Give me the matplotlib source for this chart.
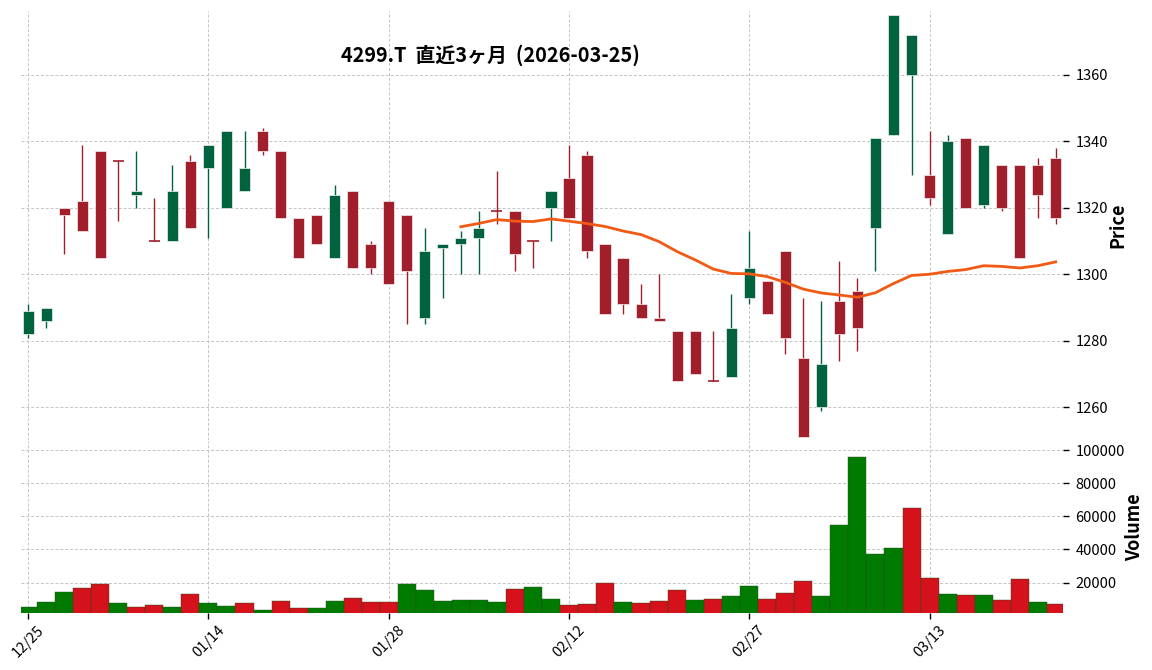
import matplotlib
matplotlib.use('Agg')
import matplotlib.pyplot as plt
import numpy as np
import pandas as pd

plt.rcParams['font.family'] = ['Noto Sans CJK JP', 'DejaVu Sans']

# データ (終値ベースで読み取り)
dates = ['12/25', '12/26', '12/29', '12/30', '01/05', '01/06', '01/07', '01/08', '01/09', '01/13',
         '01/14', '01/15', '01/16', '01/19', '01/20', '01/21', '01/22', '01/23', '01/26', '01/27',
         '01/28', '01/29', '01/30', '02/02', '02/03', '02/04', '02/05', '02/06', '02/09', '02/10',
         '02/12', '02/13', '02/16', '02/17', '02/18', '02/19', '02/20', '02/24', '02/25', '02/26',
         '02/27', '03/02', '03/03', '03/04', '03/05', '03/06', '03/09', '03/10', '03/11', '03/12',
         '03/13', '03/16', '03/17', '03/18', '03/19', '03/23', '03/24', '03/25']
opens = [1282, 1286, 1320, 1322, 1337, 1334, 1324, 1310, 1310, 1334,
         1332, 1320, 1325, 1343, 1337, 1317, 1318, 1305, 1325, 1309,
         1322, 1318, 1287, 1308, 1309, 1311, 1319, 1319, 1310, 1320,
         1329, 1336, 1309, 1305, 1291, 1287, 1283, 1283, 1268, 1269,
         1293, 1298, 1307, 1275, 1260, 1292, 1295, 1314, 1342, 1360,
         1330, 1312, 1341, 1321, 1333, 1333, 1333, 1335]
highs = [1291, 1290, 1320, 1339, 1337, 1334, 1337, 1323, 1333, 1336,
         1339, 1343, 1343, 1344, 1337, 1317, 1318, 1327, 1325, 1310,
         1322, 1318, 1314, 1309, 1313, 1319, 1331, 1319, 1310, 1325,
         1339, 1337, 1309, 1305, 1297, 1300, 1283, 1283, 1283, 1294,
         1313, 1298, 1307, 1293, 1292, 1304, 1299, 1341, 1378, 1372,
         1343, 1342, 1341, 1339, 1333, 1333, 1335, 1338]
lows = [1281, 1284, 1306, 1313, 1305, 1316, 1320, 1310, 1310, 1314,
        1311, 1320, 1325, 1336, 1317, 1305, 1309, 1305, 1302, 1300,
        1297, 1285, 1285, 1293, 1300, 1300, 1315, 1301, 1302, 1310,
        1317, 1305, 1288, 1288, 1287, 1286, 1268, 1270, 1268, 1269,
        1291, 1288, 1276, 1251, 1259, 1274, 1277, 1301, 1342, 1330,
        1321, 1312, 1320, 1320, 1319, 1305, 1317, 1315]
closes = [1289, 1290, 1318, 1313, 1305, 1334, 1325, 1310, 1325, 1314,
          1339, 1343, 1332, 1337, 1317, 1305, 1309, 1324, 1302, 1302,
          1297, 1301, 1307, 1309, 1311, 1314, 1319, 1306, 1310, 1325,
          1317, 1307, 1288, 1291, 1287, 1286, 1268, 1270, 1268, 1284,
          1302, 1288, 1281, 1251, 1273, 1282, 1284, 1341, 1378, 1372,
          1323, 1340, 1320, 1339, 1320, 1305, 1324, 1317]
volumes = [5000, 8000, 14000, 16500, 19000, 7500, 5000, 6200, 5000, 12900,
           7500, 5600, 7500, 3200, 8700, 4400, 4400, 8700, 10500, 8100,
           8100, 19000, 15300, 8700, 9300, 9300, 8100, 15900, 17200, 9900,
           6300, 6900, 19600, 8100, 7500, 8700, 15300, 9300, 9900, 11700,
           17800, 9900, 13500, 20800, 11700, 54700, 95900, 37200, 40800, 65000,
           22600, 12900, 12300, 12300, 9300, 22000, 8100, 6900]
ma_window = 25

title = '4299.T  直近3ヶ月  (2026-03-25)'

# 色
up_candle = '#00633e'
down_candle = '#a01f2a'
up_vol = '#007a00'
down_vol = '#d5111b'
ma_color = '#f05a14'

x = np.arange(len(dates))
o = np.array(opens)
h = np.array(highs)
l = np.array(lows)
c = np.array(closes)
ma = pd.Series(c).rolling(ma_window).mean()

fig = plt.figure(figsize=(11.52, 6.70), dpi=100)
ax1 = fig.add_axes([0.0182, 0.3433, 0.9045, 0.6403])
ax2 = fig.add_axes([0.0182, 0.0851, 0.9045, 0.2567], sharex=ax1)

# ==================== ローソク足 ====================
cand_colors = [up_candle if oo < cc else down_candle for oo, cc in zip(o, c)]
ax1.vlines(x, l, h, colors=cand_colors, linewidth=1.0, zorder=2)
body_w = 0.62
for xi, oo, cc, col in zip(x, o, c, cand_colors):
    if oo == cc:
        ax1.hlines(oo, xi - body_w / 2, xi + body_w / 2, colors=col, linewidth=1.2, zorder=3)
    else:
        ax1.bar(xi, abs(cc - oo), body_w, bottom=min(oo, cc), color=col,
                edgecolor='#f2f2f2', linewidth=0.5, zorder=3)

ax1.plot(x, ma, color=ma_color, linewidth=2.0, zorder=4)

ax1.set_ylim(min(lows) - 0.8, max(highs) + 1.2)
ax1.set_xlim(-0.4, len(dates) - 0.6)

# ==================== 出来高 ====================
vol_colors = [up_vol if o[0] < c[0] else down_vol]
vol_colors += [up_vol if prev < cur else down_vol for prev, cur in zip(c[:-1], c[1:])]
ax2.bar(x, volumes, 1.0, color=vol_colors, edgecolor='#1f4f1f', linewidth=0.3, zorder=2)
ax2.set_ylim(1600, max(volumes) * 1.1)
ax2.set_yticks([20000, 40000, 60000, 80000, 100000])

# ==================== 体裁 ====================
tick_idx = x[::10]
for ax in (ax1, ax2):
    for s in ax.spines.values():
        s.set_visible(False)
    ax.grid(True, color='#c4c4c4', linestyle=(0, (3, 2)), linewidth=0.7)
    ax.set_axisbelow(True)
    ax.yaxis.tick_right()
    ax.yaxis.set_label_position('right')
    ax.tick_params(axis='y', length=4, width=1, labelsize=10.5, pad=5)
    ax.set_xticks(tick_idx)

ax1.set_yticks([1260, 1280, 1300, 1320, 1340, 1360])
ax1.tick_params(axis='x', length=0, labelbottom=False)
ax2.set_xticklabels([dates[i] for i in tick_idx], rotation=45, fontsize=10.5)
ax2.tick_params(axis='x', length=4, width=1)
ax2.ticklabel_format(axis='y', style='plain')

ax1.set_ylabel('Price', fontsize=13, fontweight='bold', labelpad=0)
ax2.set_ylabel('Volume', fontsize=13, fontweight='bold', labelpad=0)

fig.text(490 / 1152, 1 - 55 / 670, title, ha='center', va='center',
         fontsize=14.3, fontweight='bold')

fig.savefig('out.png', dpi=100, facecolor='white')
